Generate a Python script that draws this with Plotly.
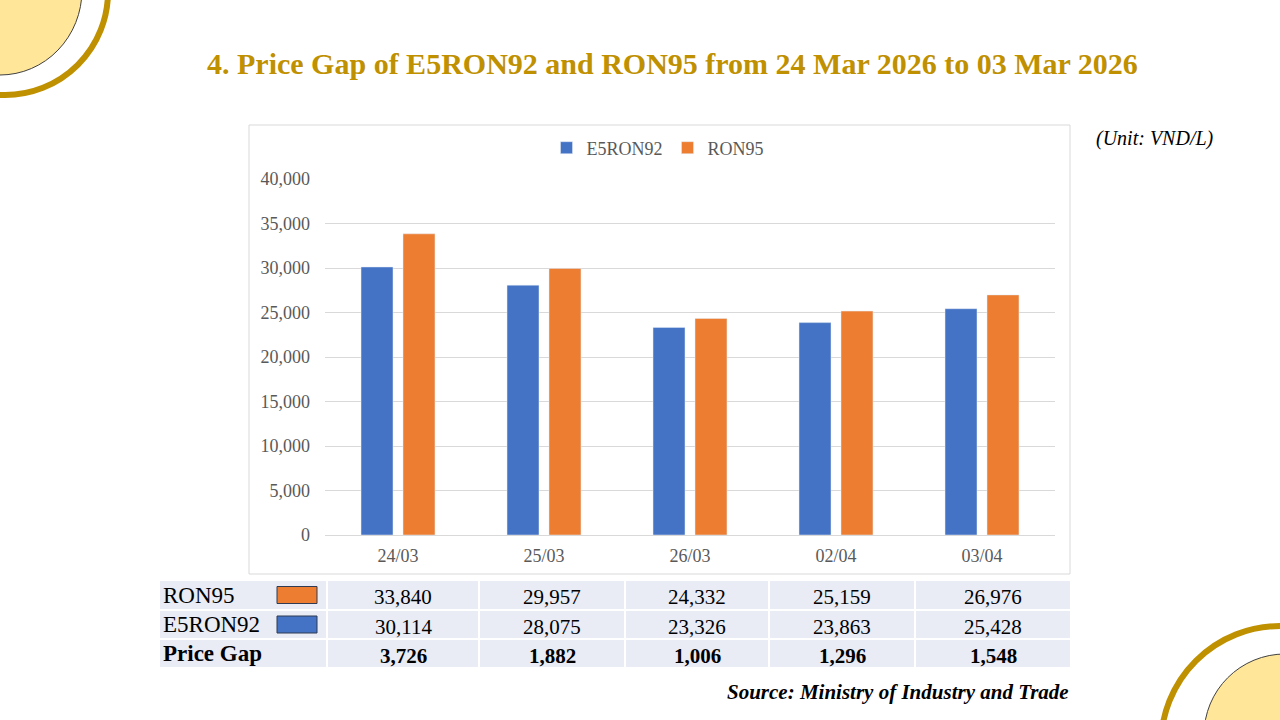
import plotly.graph_objects as go

# ---------------- data ----------------
categories = ["24/03", "25/03", "26/03", "02/04", "03/04"]
e5ron92 = [30114, 28075, 23326, 23863, 25428]
ron95 = [33840, 29957, 24332, 25159, 26976]
price_gap = [3726, 1882, 1006, 1296, 1548]
y_ticks = [0, 5000, 10000, 15000, 20000, 25000, 30000, 35000, 40000]

title_text = "4. Price Gap of E5RON92 and RON95 from 24 Mar 2026 to 03 Mar 2026"
unit_text = "(Unit: VND/L)"
source_text = "Source: Ministry of Industry and Trade"

# ---------------- style / layout ----------------
BLUE = "#4472C4"
ORANGE = "#ED7D31"
GOLD = "#BF9000"
GRID = "#D9D9D9"
AXIS_TXT = "#595959"
CELL = "#E9EBF5"
SERIF = "Liberation Serif, Times New Roman, serif"

W, H = 1280, 720
PL, PR, PT, PB = 325, 1055, 179, 535  # plot area in pixels


def px(x):
    return (x - PL) / (PR - PL)


def py(y):
    return (PB - y) / (PB - PT)


fig = go.Figure()
fig.add_trace(go.Bar(name="E5RON92", x=categories, y=e5ron92, marker_color=BLUE))
fig.add_trace(go.Bar(name="RON95", x=categories, y=ron95, marker_color=ORANGE))

shapes = []
annotations = []

# decorative corner circles
shapes.append(dict(type="circle", xref="paper", yref="paper", layer="below",
                   x0=px(0 - 82), x1=px(0 + 82), y0=py(-10 - 85), y1=py(-10 + 85),
                   fillcolor="#FFE699", line=dict(color="#404040", width=1)))
shapes.append(dict(type="circle", xref="paper", yref="paper", layer="below",
                   x0=px(5 - 103), x1=px(5 + 103), y0=py(-8 - 103), y1=py(-8 + 103),
                   fillcolor="rgba(0,0,0,0)", line=dict(color=GOLD, width=6)))
shapes.append(dict(type="circle", xref="paper", yref="paper", layer="below",
                   x0=px(1285 - 81), x1=px(1285 + 81), y0=py(735 - 81), y1=py(735 + 81),
                   fillcolor="#FFE699", line=dict(color="#404040", width=1)))
shapes.append(dict(type="circle", xref="paper", yref="paper", layer="below",
                   x0=px(1280 - 119), x1=px(1280 + 119), y0=py(745 - 119), y1=py(745 + 119),
                   fillcolor="rgba(0,0,0,0)", line=dict(color=GOLD, width=6)))

# chart border
shapes.append(dict(type="rect", xref="paper", yref="paper", layer="below",
                   x0=px(249), x1=px(1070), y0=py(125), y1=py(574),
                   fillcolor="white", line=dict(color=GRID, width=1)))

# table
col_edges = [160, 327, 479, 625, 769, 915, 1071]
row_edges = [580, 610, 639, 668]
for r in range(3):
    for c in range(6):
        shapes.append(dict(type="rect", xref="paper", yref="paper", layer="below",
                           x0=px(col_edges[c] + (1 if c > 0 else 0)), x1=px(col_edges[c + 1] - 1),
                           y0=py(row_edges[r] + 1), y1=py(row_edges[r + 1] - 1),
                           fillcolor=CELL, line=dict(width=0)))

row_labels = ["RON95", "E5RON92", "Price Gap"]
row_values = [ron95, e5ron92, price_gap]
row_colors = [ORANGE, BLUE, None]
for r in range(3):
    yc = (row_edges[r] + row_edges[r + 1]) / 2
    bold = r == 2
    annotations.append(dict(xref="paper", yref="paper", x=px(161), y=py(yc), xanchor="left",
                            yanchor="middle", showarrow=False,
                            text=("<b>%s</b>" % row_labels[r]) if bold else row_labels[r],
                            font=dict(family=SERIF, size=23, color="black")))
    if row_colors[r]:
        shapes.append(dict(type="rect", xref="paper", yref="paper",
                           x0=px(277), x1=px(317), y0=py(yc - 8.5), y1=py(yc + 8.5),
                           fillcolor=row_colors[r], line=dict(color="#2F3B52", width=1)))
    for c, v in enumerate(row_values[r]):
        xc = (col_edges[c + 1] + col_edges[c + 2]) / 2
        t = f"{v:,}"
        annotations.append(dict(xref="paper", yref="paper", x=px(xc), y=py(yc + 2),
                                xanchor="center", yanchor="middle", showarrow=False,
                                text=("<b>%s</b>" % t) if bold else t,
                                font=dict(family=SERIF, size=21, color="black")))

# title, unit, source
annotations.append(dict(xref="paper", yref="paper", x=px(672), y=py(64), xanchor="center",
                        yanchor="middle", showarrow=False, text="<b>%s</b>" % title_text,
                        font=dict(family=SERIF, size=30, color=GOLD)))
annotations.append(dict(xref="paper", yref="paper", x=px(1216), y=py(139), xanchor="right",
                        yanchor="middle", showarrow=False, text="<i>%s</i>" % unit_text,
                        font=dict(family=SERIF, size=20, color="black")))
annotations.append(dict(xref="paper", yref="paper", x=px(1071), y=py(692), xanchor="right",
                        yanchor="middle", showarrow=False, text="<b><i>%s</i></b>" % source_text,
                        font=dict(family=SERIF, size=21, color="black")))

fig.update_layout(
    width=W, height=H,
    margin=dict(l=PL, r=W - PR, t=PT, b=H - PB, pad=0),
    paper_bgcolor="white", plot_bgcolor="rgba(0,0,0,0)",
    barmode="group", bargap=0.425, bargroupgap=0.238,
    showlegend=True,
    legend=dict(orientation="h", x=px(658), y=py(148), xanchor="center", yanchor="middle",
                font=dict(family=SERIF, size=18, color=AXIS_TXT), bgcolor="rgba(0,0,0,0)"),
    shapes=shapes, annotations=annotations,
    font=dict(family=SERIF),
)
fig.update_xaxes(type="category", showgrid=False, showline=False, zeroline=False,
                 tickfont=dict(family=SERIF, size=18, color=AXIS_TXT), ticks="",
                 ticklabelstandoff=8)
fig.update_yaxes(range=[0, 40000], tickvals=y_ticks, tickformat=",d",
                 showgrid=True, gridcolor=GRID, gridwidth=1, zeroline=True,
                 zerolinecolor=GRID, zerolinewidth=1, showline=False,
                 tickfont=dict(family=SERIF, size=18, color=AXIS_TXT), ticks="",
                 ticklabelstandoff=14)

fig.write_html("out.html")
